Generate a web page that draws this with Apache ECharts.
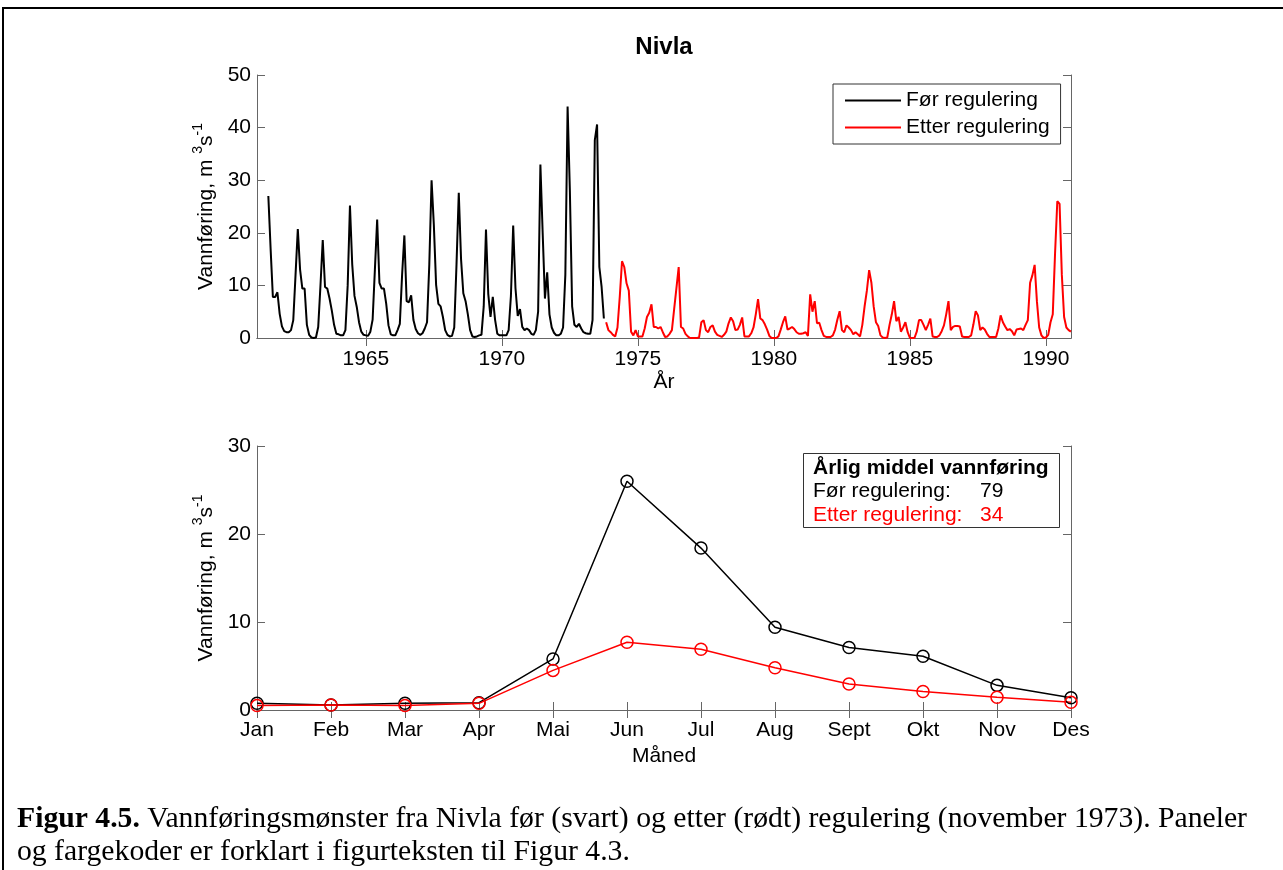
<!DOCTYPE html>
<html><head><meta charset="utf-8">
<script src="https://cdn.jsdelivr.net/npm/echarts@6/dist/echarts.min.js"></script>
<style>html,body{margin:0;padding:0;background:#fff}#c{width:1283px;height:870px}</style>
</head><body><div id="c"></div>
<script>
// ---------- data ----------
const chartTitle = 'Nivla';
const yearTicks = [1965, 1970, 1975, 1980, 1985, 1990];
const seriesNames = ['Før regulering', 'Etter regulering'];

// monthly discharge (m3/s), black = before regulation, starting June 1961
const foerStart = { year: 1961, month: 6 };
const foerValues = [
  27, 17, 7.8, 7.8, 8.7, 4.6, 2.2,                       // 1961 Jun-Dec
  1.3, 1.1, 1.1, 1.5, 3.4, 12, 20.7, 13, 9.4, 9.4, 2.5, 0.6,   // 1962
  0.1, 0, 0.1, 2.1, 10, 18.6, 9.7, 9.4, 7.5, 5.2, 2.5, 0.8,    // 1963
  0.7, 0.5, 0.5, 1.5, 10, 25.2, 14, 8, 5.9, 3, 1.2, 0.6,       // 1964
  0.5, 0.4, 1.2, 3.5, 13, 22.5, 10.5, 9.4, 9.4, 6.5, 2.4, 0.7, // 1965
  0.5, 0.5, 1.5, 2.7, 12, 19.5, 7, 6.8, 8.1, 3.4, 1.7, 0.9,    // 1966
  0.6, 0.9, 1.8, 3, 14, 30, 21.5, 10.1, 6.5, 6, 4, 1.5,        // 1967
  0.6, 0.3, 0.4, 2, 14, 27.6, 15, 8.5, 7, 4.5, 1.5, 0.3,       // 1968
  0.2, 0.3, 0.5, 0.6, 6, 20.6, 8.4, 4, 7.8, 3.5, 0.8, 0.5,     // 1969
  0.5, 0.5, 0.5, 1.5, 8, 21.4, 9.5, 4.2, 5.5, 2.1, 1.5, 1.8,   // 1970
  1.5, 0.8, 0.6, 1.5, 5, 33, 20, 7.5, 12.5, 4.5, 2, 1,         // 1971
  0.5, 0.5, 0.8, 2, 12, 44, 28, 6, 2.5, 2.1, 2.7, 1.8,         // 1972
  1.1, 0.9, 0.8, 0.8, 3.4, 37.6, 40.6, 13.5, 9.7, 3.7          // 1973 Jan-Oct
];

// monthly discharge (m3/s), red = after regulation, starting November 1973
const etterStart = { year: 1973, month: 11 };
const etterValues = [
  3.0, 1.5,                                                    // 1973 Nov-Dec
  1.1, 0.6, 0.3, 2, 7.8, 14.6, 13.5, 10.4, 9.0, 1.2, 0.5, 1.5, // 1974
  0.3, 0.3, 0.3, 1.8, 4, 4.8, 6.4, 2.1, 2.1, 1.8, 2.1, 1.1,    // 1975
  0.2, 0.3, 0.8, 1.5, 5.5, 9.5, 13.5, 2.1, 1.8, 0.8, 0.3, 0,   // 1976
  0, 0, 0, 0.1, 3, 3.4, 1.5, 1.1, 2.1, 2.4, 1.2, 0.6,          // 1977
  0.4, 0.2, 0.6, 1.2, 2.8, 3.9, 3.2, 1.5, 1.6, 2.5, 3.9, 0.3,  // 1978
  0.3, 0.3, 0.9, 2, 4.5, 7.4, 3.7, 3.4, 2.6, 1.6, 0.4, 0,      // 1979
  0, 0, 0.3, 1.6, 3, 4.1, 1.6, 1.8, 2.1, 1.7, 1.1, 0.8,        // 1980
  0.8, 0.9, 1.1, 0.4, 8.3, 5, 7, 2.8, 2.9, 1.5, 0.4, 0.2,      // 1981
  0.2, 0.2, 0.5, 1.6, 3.5, 5.1, 1.5, 1.1, 2.4, 2, 1.5, 0.7,    // 1982
  1.1, 0.7, 0.3, 2.5, 6, 9, 12.9, 10.5, 6, 3, 2.3, 0.5,        // 1983
  0.1, 0, 0.1, 2.5, 4.5, 7, 3.2, 4, 1.2, 2, 3, 1.1,            // 1984
  0, 0, 0, 1.2, 3.4, 3.4, 2.5, 1.5, 2.5, 3.7, 0.3, 0.2,        // 1985
  0.2, 0.5, 1.3, 2.4, 4.5, 7, 1.5, 2.1, 2.3, 2.3, 2.2, 0.3,    // 1986
  0.2, 0.2, 0.2, 0.5, 2.6, 5.1, 4.3, 1.5, 2, 1.6, 0.8, 0.2,    // 1987
  0.2, 0.2, 0.2, 1.8, 4.3, 3, 2.2, 1.5, 1.7, 1.3, 0.5, 1.6,    // 1988
  1.7, 1.8, 1.5, 2.5, 3.4, 10.5, 11.9, 13.9, 7, 2, 0.5, 0,     // 1989
  0.1, 0.6, 3, 4.5, 16, 26, 25.5, 12, 4, 2, 1.5, 1.2           // 1990
];

// lower panel: mean monthly discharge
const months = ['Jan', 'Feb', 'Mar', 'Apr', 'Mai', 'Jun', 'Jul', 'Aug', 'Sept', 'Okt', 'Nov', 'Des'];
const foerMonthly  = [0.76, 0.57, 0.76, 0.83, 5.8, 26.0, 18.4, 9.4, 7.1, 6.1, 2.8, 1.4];
const etterMonthly = [0.5, 0.57, 0.5, 0.76, 4.5, 7.7, 6.9, 4.8, 2.95, 2.1, 1.44, 0.87];
const boxTitle = 'Årlig middel vannføring';
const foerAnnualMean = 79;
const etterAnnualMean = 34;

const captionLead = 'Figur 4.5.';
const caption1 = 'Vannføringsmønster fra Nivla før (svart) og etter (rødt) regulering (november 1973). Paneler';
const caption2 = 'og fargekoder er forklart i figurteksten til Figur 4.3.';
// ---------- chart ----------
const BLACK = '#000000', RED = '#ff0000', AXC = '#666666';
const FONT = 'Liberation Sans, Arial, sans-serif';
const SERIF = 'Liberation Serif, serif';
const FS = 21;
const CFS = 29.7;

function toPairs(start, vals) {
  return vals.map((v, i) => [start.year + (start.month - 1 + i) / 12, v]);
}

const yName = 'Vannføring, m {sup|3}s{sup|-1}';
const yNameStyle = {
  fontSize: FS, color: '#000', fontFamily: FONT,
  rich: { sup: { fontSize: 14, fontFamily: FONT, color: '#000', padding: [0, 0, 16, 0] } }
};
const lineAx = { show: true, lineStyle: { color: AXC, width: 1 } };
const tick = { show: true, inside: true, length: 8, lineStyle: { color: AXC, width: 1 } };
const lbl = { color: '#000', fontSize: FS, fontFamily: FONT };
const boxTxt = { fontSize: FS, fontWeight: 'normal', fontFamily: FONT, lineHeight: 23.5 };

const chart = echarts.init(document.getElementById('c'), null, { renderer: 'canvas' });
chart.setOption({
  animation: false,
  backgroundColor: '#fff',
  textStyle: { fontFamily: FONT },
  title: [
    { text: chartTitle, left: 664, textAlign: 'center', top: 35, padding: 0,
      textStyle: { fontSize: 24, fontWeight: 'bold', color: '#000', fontFamily: FONT } },
    { text: '{b|' + boxTitle + '}\n{k|' + seriesNames[0] + ':}{kv|' + foerAnnualMean + '}\n{r|' + seriesNames[1] + ':}{rv|' + etterAnnualMean + '}',
      left: 803, top: 452, padding: [4, 5, 2, 10], borderColor: '#333', borderWidth: 1, backgroundColor: '#fff',
      textStyle: { fontWeight: 'normal', fontSize: FS, rich: {
        b: Object.assign({}, boxTxt, { fontWeight: 'bold', color: '#000', width: 242 }),
        k: Object.assign({}, boxTxt, { color: '#000', width: 167 }),
        kv: Object.assign({}, boxTxt, { color: '#000' }),
        r: Object.assign({}, boxTxt, { color: RED, width: 167 }),
        rv: Object.assign({}, boxTxt, { color: RED })
      } } },
    { text: '{b|' + captionLead + '} {n|' + caption1 + '}\n{n|' + caption2 + '}', left: 17, top: 803, padding: 0,
      textStyle: { fontWeight: 'normal', fontSize: CFS, fontFamily: SERIF, rich: {
        b: { fontSize: CFS, fontWeight: 'bold', color: '#000', fontFamily: SERIF, lineHeight: 33 },
        n: { fontSize: CFS, fontWeight: 'normal', color: '#000', fontFamily: SERIF, lineHeight: 33 }
      } } }
  ],
  legend: {
    data: seriesNames, orient: 'vertical', left: 833, top: 84,
    padding: [6, 11, 6, 11], itemGap: 6, itemWidth: 56, itemHeight: 14,
    borderColor: '#333', borderWidth: 1, backgroundColor: '#fff',
    itemStyle: { opacity: 0, borderWidth: 0 },
    lineStyle: { width: 2 },
    textStyle: { fontSize: FS, color: '#000', fontFamily: FONT }
  },
  grid: [
    { left: 257, top: 75, width: 814, height: 263 },
    { left: 257, top: 446, width: 814, height: 264 }
  ],
  xAxis: [
    { type: 'value', gridIndex: 0, min: 1961, max: 1990.92, position: 'bottom',
      axisLine: lineAx, splitLine: { show: false },
      axisTick: Object.assign({ customValues: yearTicks }, tick),
      axisLabel: Object.assign({ customValues: yearTicks, margin: 11, formatter: v => String(v) }, lbl),
      name: 'År', nameLocation: 'middle', nameGap: 34, nameTextStyle: lbl },
    { type: 'value', gridIndex: 0, min: 1961, max: 1990.92, position: 'top',
      axisLine: lineAx, splitLine: { show: false },
      axisTick: Object.assign({ customValues: yearTicks }, tick),
      axisLabel: { show: false } },
    { type: 'category', gridIndex: 1, data: months, boundaryGap: false, position: 'bottom',
      axisLine: lineAx, axisTick: tick, splitLine: { show: false },
      axisLabel: Object.assign({ margin: 10, interval: 0 }, lbl),
      name: 'Måned', nameLocation: 'middle', nameGap: 36, nameTextStyle: lbl },
    { type: 'category', gridIndex: 1, data: months, boundaryGap: false, position: 'top',
      axisLine: lineAx, axisTick: tick, splitLine: { show: false }, axisLabel: { show: false } }
  ],
  yAxis: [
    { type: 'value', gridIndex: 0, min: 0, max: 50, interval: 10, position: 'left',
      axisLine: lineAx, axisTick: tick, splitLine: { show: false },
      axisLabel: Object.assign({ margin: 6 }, lbl),
      name: yName, nameLocation: 'middle', nameGap: 29, nameTextStyle: yNameStyle },
    { type: 'value', gridIndex: 0, min: 0, max: 50, interval: 10, position: 'right',
      axisLine: lineAx, axisTick: tick, splitLine: { show: false }, axisLabel: { show: false } },
    { type: 'value', gridIndex: 1, min: 0, max: 30, interval: 10, position: 'left',
      axisLine: lineAx, axisTick: tick, splitLine: { show: false },
      axisLabel: Object.assign({ margin: 6 }, lbl),
      name: yName, nameLocation: 'middle', nameGap: 29, nameTextStyle: yNameStyle },
    { type: 'value', gridIndex: 1, min: 0, max: 30, interval: 10, position: 'right',
      axisLine: lineAx, axisTick: tick, splitLine: { show: false }, axisLabel: { show: false } }
  ],
  series: [
    { name: seriesNames[0], type: 'line', xAxisIndex: 0, yAxisIndex: 0, data: toPairs(foerStart, foerValues),
      symbol: 'none', color: BLACK, lineStyle: { color: BLACK, width: 2 } },
    { name: seriesNames[1], type: 'line', xAxisIndex: 0, yAxisIndex: 0, data: toPairs(etterStart, etterValues),
      symbol: 'none', color: RED, lineStyle: { color: RED, width: 2 } },
    { name: 'foerMonthly', type: 'line', xAxisIndex: 2, yAxisIndex: 2, data: foerMonthly,
      symbol: 'circle', symbolSize: 12, color: BLACK,
      itemStyle: { color: 'rgba(0,0,0,0)', borderColor: BLACK, borderWidth: 1.5 },
      lineStyle: { color: BLACK, width: 1.5 } },
    { name: 'etterMonthly', type: 'line', xAxisIndex: 2, yAxisIndex: 2, data: etterMonthly,
      symbol: 'circle', symbolSize: 12, color: RED,
      itemStyle: { color: 'rgba(0,0,0,0)', borderColor: RED, borderWidth: 1.5 },
      lineStyle: { color: RED, width: 1.5 } }
  ],
  graphic: [
    { type: 'rect', silent: true, z: 100, shape: { x: 3, y: 8, width: 1400, height: 1000 },
      style: { fill: 'none', stroke: '#000', lineWidth: 2 } }
  ]
});
</script>
</body></html>
